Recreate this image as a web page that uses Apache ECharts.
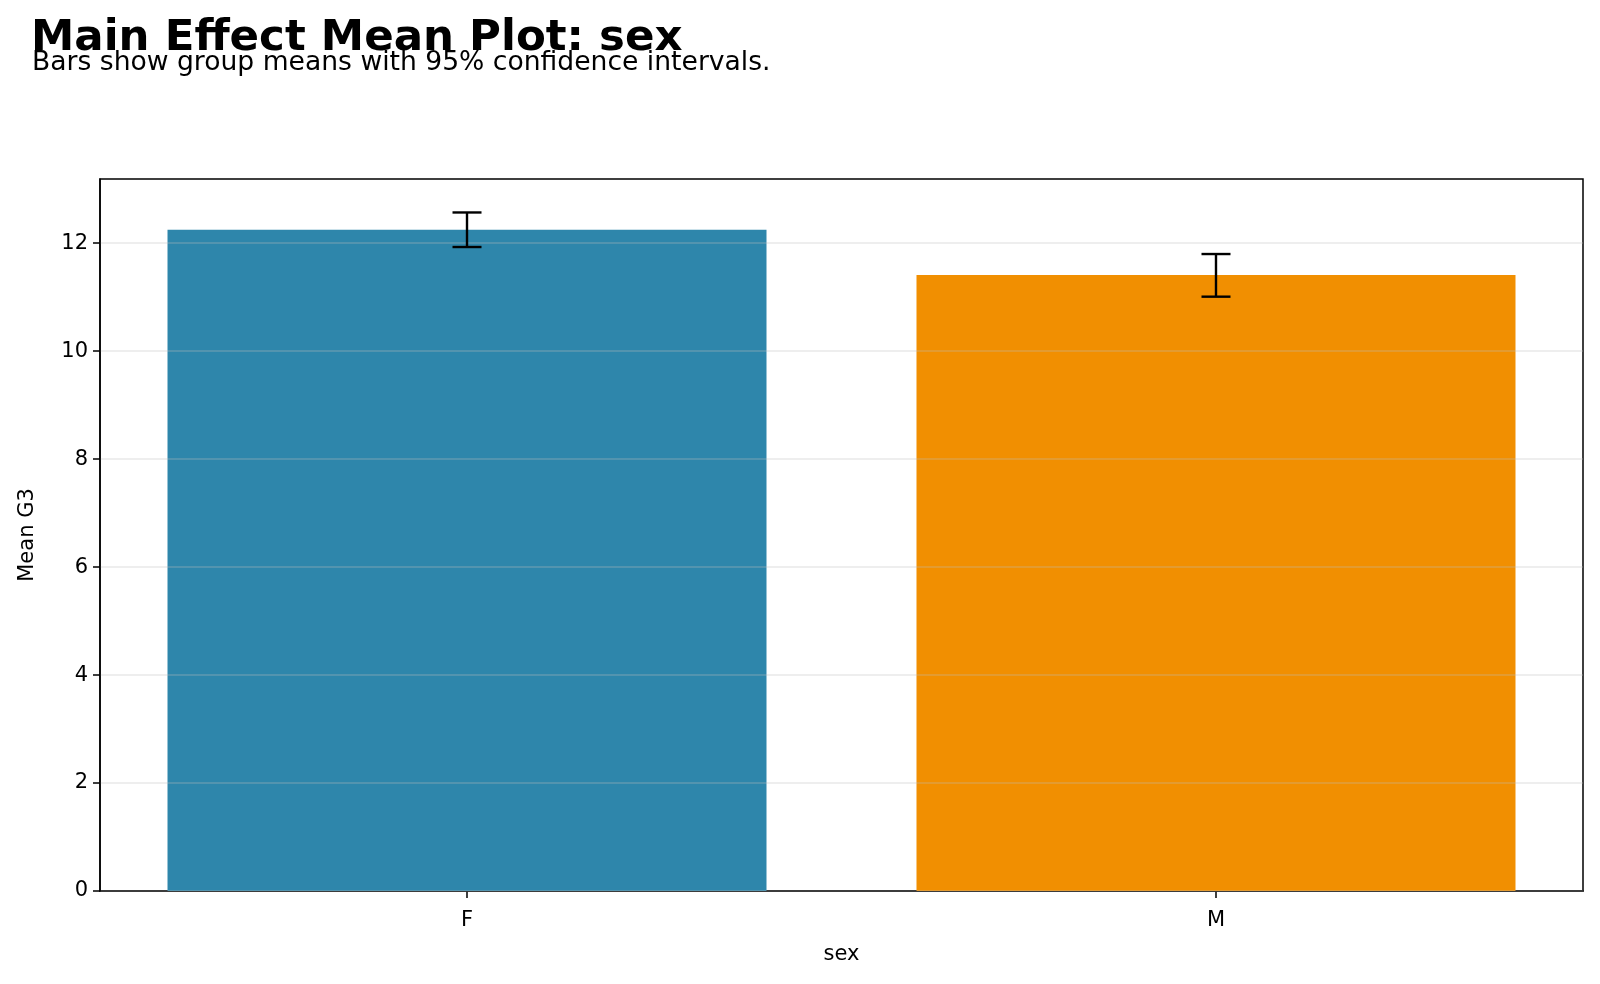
<!DOCTYPE html>
<html>
<head>
<meta charset="utf-8">
<script src="https://cdn.jsdelivr.net/npm/echarts@6/dist/echarts.min.js"></script>
<style>
  html, body { margin: 0; padding: 0; background: #fff; }
  #main { width: 1600px; height: 984px; }
</style>
</head>
<body>
<div id="main"></div>
<script>
var groups = ['F', 'M'];
var means = [12.25, 11.41];
var ciLow = [11.93, 11.01];
var ciHigh = [12.57, 11.80];
var barColors = ['#2E86AB', '#F18F01'];
var yTicks = [0, 2, 4, 6, 8, 10, 12];
var xPositions = [0, 1];

var myChart = echarts.init(document.getElementById('main'));

var font = 'DejaVu Sans';

var option = {
    animation: false,
    title: [
        {
            text: 'Main Effect Mean Plot: sex',
            left: 26, top: 12,
            textStyle: { fontFamily: font, fontSize: 43.5, fontWeight: 'bold', color: '#000' }
        },
        {
            text: 'Bars show group means with 95% confidence intervals.',
            left: 27, top: 45,
            textStyle: { fontFamily: font, fontSize: 26.6, fontWeight: 'normal', color: '#000' }
        }
    ],
    grid: {
        left: 100, top: 179, right: 17, bottom: 93,
        show: true, borderColor: '#000', borderWidth: 1.5, backgroundColor: '#fff'
    },
    xAxis: {
        type: 'value',
        min: -0.49, max: 1.49,
        name: 'sex',
        nameLocation: 'middle',
        nameGap: 53,
        nameTextStyle: { fontFamily: font, fontSize: 21, color: '#000' },
        axisLine: { onZero: false, lineStyle: { color: '#000', width: 1.5 } },
        axisTick: { show: true, length: 7, customValues: xPositions, lineStyle: { color: '#000', width: 1.5 } },
        axisLabel: {
            fontFamily: font, fontSize: 21, color: '#000', margin: 19,
            customValues: xPositions,
            formatter: function (v) { return groups[Math.round(v)]; }
        },
        splitLine: { show: false }
    },
    yAxis: {
        type: 'value',
        min: 0, max: 13.19,
        z: 3,
        name: 'Mean G3',
        nameLocation: 'middle',
        nameGap: 62,
        nameTextStyle: { fontFamily: font, fontSize: 21, color: '#000' },
        axisLine: { show: true, onZero: false, lineStyle: { color: '#000', width: 1.5 } },
        axisTick: { show: true, length: 7, customValues: yTicks, lineStyle: { color: '#000', width: 1.5 } },
        axisLabel: { fontFamily: font, fontSize: 21, color: '#000', margin: 12, customValues: yTicks },
        splitLine: { show: true, lineStyle: { color: 'rgba(190,190,190,0.35)', width: 1.5 } }
    },
    series: [
        {
            type: 'bar',
            barWidth: 599,
            barGap: '-100%',
            data: means.map(function (v, i) {
                return { value: [xPositions[i], v], itemStyle: { color: barColors[i] } };
            })
        },
        {
            type: 'custom',
            z: 5,
            data: groups.map(function (g, i) { return [xPositions[i], ciLow[i], ciHigh[i]]; }),
            renderItem: function (params, api) {
                var lo = api.coord([api.value(0), api.value(1)]);
                var hi = api.coord([api.value(0), api.value(2)]);
                var half = 14.5;
                var style = { stroke: '#000', lineWidth: 2.4 };
                return {
                    type: 'group',
                    children: [
                        { type: 'line', shape: { x1: lo[0], y1: lo[1], x2: hi[0], y2: hi[1] }, style: style },
                        { type: 'line', shape: { x1: lo[0] - half, y1: lo[1], x2: lo[0] + half, y2: lo[1] }, style: style },
                        { type: 'line', shape: { x1: hi[0] - half, y1: hi[1], x2: hi[0] + half, y2: hi[1] }, style: style }
                    ]
                };
            }
        }
    ]
};

myChart.setOption(option);
</script>
</body>
</html>
